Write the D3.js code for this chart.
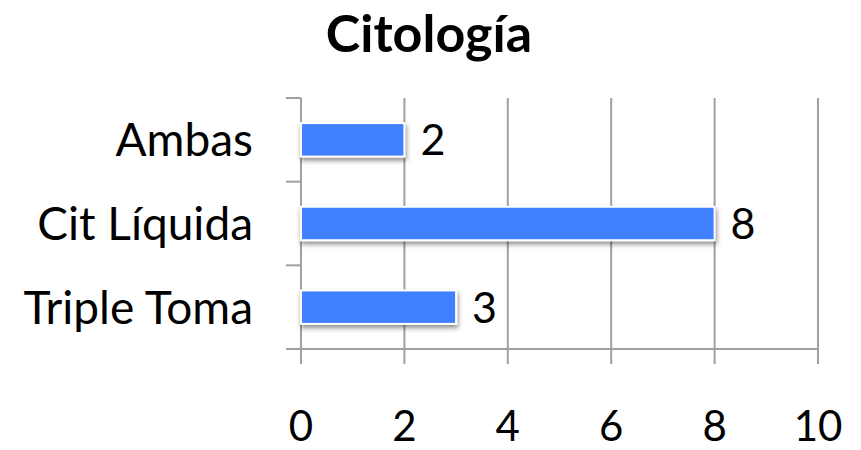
<!DOCTYPE html>
<html><head><meta charset="utf-8">
<script src="https://cdn.jsdelivr.net/npm/d3@7"></script>
<style>body{margin:0;background:#fff}svg{display:block}text{font-family:Lato,"Open Sans",sans-serif}</style>
</head><body>
<svg id="c" width="861" height="450"></svg>
<script>
const title = "Citología";
const categories = ["Ambas", "Cit Líquida", "Triple Toma"];
const values = [2, 8, 3];
const xTicks = [0, 2, 4, 6, 8, 10];

const svg = d3.select("#c");
const L = 301, R = 818, T = 98, B = 349;
const x = d3.scaleLinear().domain([0, 10]).range([L, R]);
const y = d3.scaleBand().domain(categories).range([T, B]).paddingInner(0.6).paddingOuter(0.3);
const grid = "#a0a0a0";

const defs = svg.append("defs");
const f = defs.append("filter").attr("id","sh").attr("x","-10%").attr("y","-30%").attr("width","130%").attr("height","190%");
f.append("feDropShadow").attr("dx",1).attr("dy",3).attr("stdDeviation",2.5).attr("flood-color","#000").attr("flood-opacity",0.45);

// title
svg.append("text").attr("x", 429).attr("y", 52).attr("text-anchor","middle")
  .attr("font-size", 52).attr("font-weight","bold").text(title);

// vertical gridlines
svg.append("g").selectAll("line").data(xTicks.filter(d=>d>0)).join("line")
  .attr("x1", d=>x(d)).attr("x2", d=>x(d)).attr("y1", T).attr("y2", B+15)
  .attr("stroke", grid).attr("stroke-width", 2);

// x axis line
svg.append("line").attr("x1", L-15).attr("x2", R).attr("y1", B).attr("y2", B)
  .attr("stroke", grid).attr("stroke-width", 2);
// y axis line
svg.append("line").attr("x1", L).attr("x2", L).attr("y1", T).attr("y2", B+15)
  .attr("stroke", grid).attr("stroke-width", 2);
// y category boundary ticks
const step = y.step();
const bounds = [T, ...categories.slice(1).map(c => y(c) - step*y.paddingInner()/2)];
svg.append("g").selectAll("line").data(bounds).join("line")
  .attr("x1", L-15).attr("x2", L).attr("y1", d=>d).attr("y2", d=>d)
  .attr("stroke", grid).attr("stroke-width", 2);

// bars
svg.append("g").selectAll("rect").data(categories).join("rect")
  .attr("x", x(0)).attr("y", d=>y(d)).attr("width", (d,i)=>x(values[i])-x(0)).attr("height", y.bandwidth())
  .attr("fill", "#4080fe").attr("stroke", "#fff").attr("stroke-width", 2).attr("filter","url(#sh)");

// value labels
svg.append("g").selectAll("text").data(categories).join("text")
  .attr("x", (d,i)=>x(values[i])+16).attr("y", d=>y(d)+y.bandwidth()/2).attr("dy","0.36em")
  .attr("font-size", 43).text((d,i)=>values[i]);

// category labels
svg.append("g").selectAll("text").data(categories).join("text")
  .attr("x", 253).attr("y", d=>y(d)+y.bandwidth()/2).attr("dy","0.36em").attr("text-anchor","end")
  .attr("font-size", 46).text(d=>d);

// tick labels
svg.append("g").selectAll("text").data(xTicks).join("text")
  .attr("x", d=>x(d)).attr("y", 441).attr("text-anchor","middle")
  .attr("font-size", 42).text(d=>d);
</script>
</body></html>
